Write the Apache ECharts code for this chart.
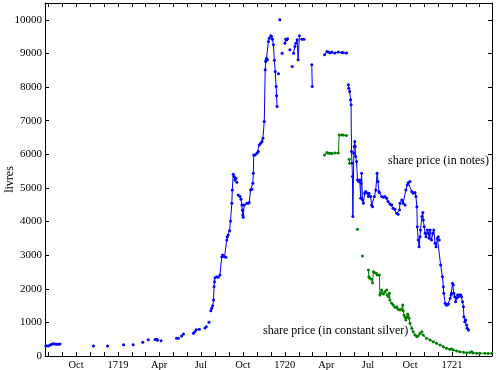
<!DOCTYPE html>
<html><head><meta charset="utf-8">
<script src="https://cdn.jsdelivr.net/npm/echarts@6/dist/echarts.min.js"></script>
<style>html,body{margin:0;padding:0;background:#fff}#c{width:499px;height:370px}</style>
</head><body><div id="c"></div>
<script>
// Dates are stored as days since 1 January 1719; a null value marks a gap in the record.
const notesDays = [
  -158,-153,-149,-145,-142,-138,-134,-131,-127, -100,
  -54, -40, -23, -10, 12, 20, 33, 45, 54, 60, 66, 75, 81,85,86, 90, 94, 110,
  128,132, 136, 139,143, 155, 165,168,171,178, 185, 190,193, 196, 199, 201,
  203,205,207,209,210,211,212,216,219,223,227,229,233,236,238,239,241,244,246,249,250,252,254,256,258,260,
  261,
  263,267,269,271,272,273,274,276,282,285,287,290,293,295,296,297,300,304,307,309,312,315,317,320,322,323,324,325,327,329,331,334,336,338,340,342,344,346,347,348,
  349, 351, 352, 354, 356, 359, 362, 365,367,369,371, 373, 376, 378, 381, 383, 384,387,389,392,394,397, 399, 402,407, 415, 424,425, 440,
  452,457,460,464,468,475,482,490,493,500, 502,
  504,505,507,509,510,511,512,513,514,516,517,518,519,520,522,524,527,529,531,532,533,535,537,540,542,546,548,549,553,555,557,561,564,567,569,571,572,
  577,581,584,588,591,595,599,602,606,610,613,616,617,621,624,628,630,633,635,639,643,646,650,652,654,655,657,659,661,662,665,667,668,670,672,674,
  677,679,681,683,686,689,691,694,696,699,701,703,706,710,712,713,716,718,721,723,727,729,730,732,734,735,737,739,741,743,745,747,750,752,754,756,
  757,759,761,763,764,767
];
const notesValues = [
  307,298,327,348,366,357,348,348,357, null,
  298, null, 298, null, 336, null, 336, null, 407, null, 485, null, 490,500,470, null, 455, null,
  526,526, null, 595,655, null, 675,723,783,794, null, 833,872, null, 1003, null,
  1348,1419,1497,1667,2062,2211,2330,2360,2341,2410,2955,3006,2955,2937,3452,3550,3600,3729,4018,4544,4940,5407,5336,5238,5288,5169,
  null,
  4791,4741,4663,4494,4345,4196,4127,4494,4544,4544,4564,4940,4960,5139,5437,5982,5982,6032,6080,6279,6330,6378,6478,6973,8511,8758,8809,8860,8809,9354,9455,9523,9502,9425,9255,8800,8460,8015,7738,7419,
  null, 8392, null, 10000, null, 9008, null, 9300,9420,9400,9440, null, 9107, null, 8610, null, 9008,9206,9306,9405,8809,9523, null, 9425,9425, null, 8660,8015, null,
  8958,9060,9040,9020,9040,9010,9040,9030,9020,9010, null,
  8065,7966,7866,7619,7470,6080,5734,5336,4146,6032,6229,6378,6229,5932,5783,5238,5187,5238,4693,5139,5437,4643,4544,4842,4890,4842,4741,4842,4741,4494,4443,4741,4940,5437,5187,4890,4860,
  4741,4721,4741,4693,4594,4524,4494,4396,4366,4247,4217,4345,4544,4643,4544,4494,4940,5089,5157,5187,4890,4842,4860,4741,4443,3848,3452,3253,3550,3750,4146,4265,4047,3848,3652,3550,
  3750,3652,3500,3750,3452,3652,3750,3354,3253,3503,3550,3452,2708,2360,2062,1866,1568,1518,1518,1548,1717,1815,1866,2164,2113,1866,1765,1616,1717,1815,1765,1815,1815,1765,1616,1467,
  1170,1021,1071,923,824,774
];
const silverDays = [
  452,457,460,464,468,475,482,484,490,493,500, 503,
  506,507, 515, 524, 530, 535, 541,
  548,549,551,555,557,559,562,565,567,572,573,575,577,581,584,588,589,592,594,595,599,602,606,610,613,617,621,623,624,626,628,630,632,634,635,637,639,643,646,650,654,657,661,665,668,675,683,690,697,705,712,719,726,730,734,741,748,756,763,770,774,777,785,792,803,810,818
];
const silverValues = [
  5982,6050,6030,6030,6020,6040,6040,6577,6577,6577,6560, null,
  5853,5734, null, 3770, null, 2976, null,
  2559,2360,2312,2282,2182,2509,2479,2461,2411,2411,1815,1866,1964,1845,1914,1964,1815,1765,1866,1667,1568,1518,1449,1467,1390,1369,1390,1518,1348,1220,1151,1071,1151,1250,1190,1121,972,824,723,625,575,600,675,723,625,526,476,426,377,327,278,228,198,210,179,150,129,115,99,105,129,90,85,80,80,78,80
];
// monthly tick marks along the date axis
const tickMonths = [
  '1718-08','1718-09','1718-10','1718-11','1718-12',
  '1719-01','1719-02','1719-03','1719-04','1719-05','1719-06','1719-07','1719-08','1719-09','1719-10','1719-11','1719-12',
  '1720-01','1720-02','1720-03','1720-04','1720-05','1720-06','1720-07','1720-08','1720-09','1720-10','1720-11','1720-12',
  '1721-01','1721-02','1721-03'
];
const monthNames = ['Jan','Feb','Mar','Apr','May','Jun','Jul','Aug','Sep','Oct','Nov','Dec'];
const yMin = 0, yMax = 10500, yStep = 1000;
const firstDay = -160, lastDay = 818.5;

const EPOCH = Date.UTC(1719, 0, 1), DAY = 86400000;
function toData(days, vals) {
  return days.map((d, i) => [EPOCH + d * DAY, vals[i] == null ? '-' : vals[i]]);
}
const tickData = tickMonths.map(s => { const p = s.split('-'); return [Date.UTC(+p[0], +p[1] - 1, 1), yMin]; });
const FONT = 'Liberation Serif';
function xFmt(v) {
  const d = new Date(v);
  if (d.getUTCDate() !== 1 || d.getUTCHours() !== 0) return '';
  const m = d.getUTCMonth();
  if (m === 0) return String(d.getUTCFullYear());
  return m % 3 === 0 ? monthNames[m] : '';
}
const xBase = {
  type: 'time', min: EPOCH + firstDay * DAY, max: EPOCH + lastDay * DAY,
  minInterval: 40 * DAY, maxInterval: 40 * DAY,
  axisLine: { show: true, onZero: false, lineStyle: { color: '#000', width: 1 } },
  axisTick: { show: false },
  splitLine: { show: false }
};
const yBase = {
  type: 'value', min: yMin, max: yMax, interval: yStep,
  axisLine: { show: true, onZero: false, lineStyle: { color: '#000', width: 1 } },
  axisTick: { show: true, inside: true, length: 4, lineStyle: { color: '#000', width: 1 } },
  splitLine: { show: false }
};
const TICK = 4;
const chart = echarts.init(document.getElementById('c'), null, { renderer: 'canvas' });
chart.setOption({
  useUTC: true,
  animation: false,
  backgroundColor: '#fff',
  grid: { left: 45, right: 7, top: 3, bottom: 14, containLabel: false, outerBoundsMode: 'none' },
  xAxis: [
    Object.assign({}, xBase, { position: 'bottom',
      axisLabel: { formatter: xFmt, color: '#000', fontFamily: FONT, fontSize: 10.5, margin: 4, hideOverlap: false } }),
    Object.assign({}, xBase, { position: 'top', axisLabel: { show: false } })
  ],
  yAxis: [
    Object.assign({}, yBase, { position: 'left', name: 'livres', nameLocation: 'middle', nameGap: 29,
      nameMoveOverlap: false,
      nameTextStyle: { color: '#000', fontFamily: FONT, fontSize: 12 },
      axisLabel: { color: '#000', fontFamily: FONT, fontSize: 11, margin: 3, showMaxLabel: false,
        formatter: v => String(v) } }),
    Object.assign({}, yBase, { position: 'right', axisLabel: { show: false } })
  ],
  series: [
    { name: 'monthTicks', type: 'custom', data: tickData, silent: true, z: 1,
      renderItem: function (params, api) {
        const b = api.coord([api.value(0), yMin]);
        const t = api.coord([api.value(0), yMax]);
        const x = Math.round(b[0]) + 0.5;
        return { type: 'group', children: [
          { type: 'line', shape: { x1: x, y1: b[1], x2: x, y2: b[1] - TICK }, style: { stroke: '#000', lineWidth: 1 } },
          { type: 'line', shape: { x1: x, y1: t[1], x2: x, y2: t[1] + TICK }, style: { stroke: '#000', lineWidth: 1 } }
        ] };
      } },
    { name: 'share price (in notes)', type: 'line', data: toData(notesDays, notesValues),
      connectNulls: false, symbol: 'circle', symbolSize: 3, showSymbol: true, z: 2,
      itemStyle: { color: '#0000ff' }, lineStyle: { color: '#0000ff', width: 1 } },
    { name: 'share price (in constant silver)', type: 'line', data: toData(silverDays, silverValues),
      connectNulls: false, symbol: 'circle', symbolSize: 3, showSymbol: true, z: 2,
      itemStyle: { color: '#008000' }, lineStyle: { color: '#008000', width: 1 } }
  ],
  graphic: [
    { type: 'text', left: 388, top: 155, style: { text: 'share price (in notes)', font: '12px "Liberation Serif"', fill: '#000' } },
    { type: 'text', left: 263, top: 325, style: { text: 'share price (in constant silver)', font: '12px "Liberation Serif"', fill: '#000' } }
  ]
});
</script></body></html>
